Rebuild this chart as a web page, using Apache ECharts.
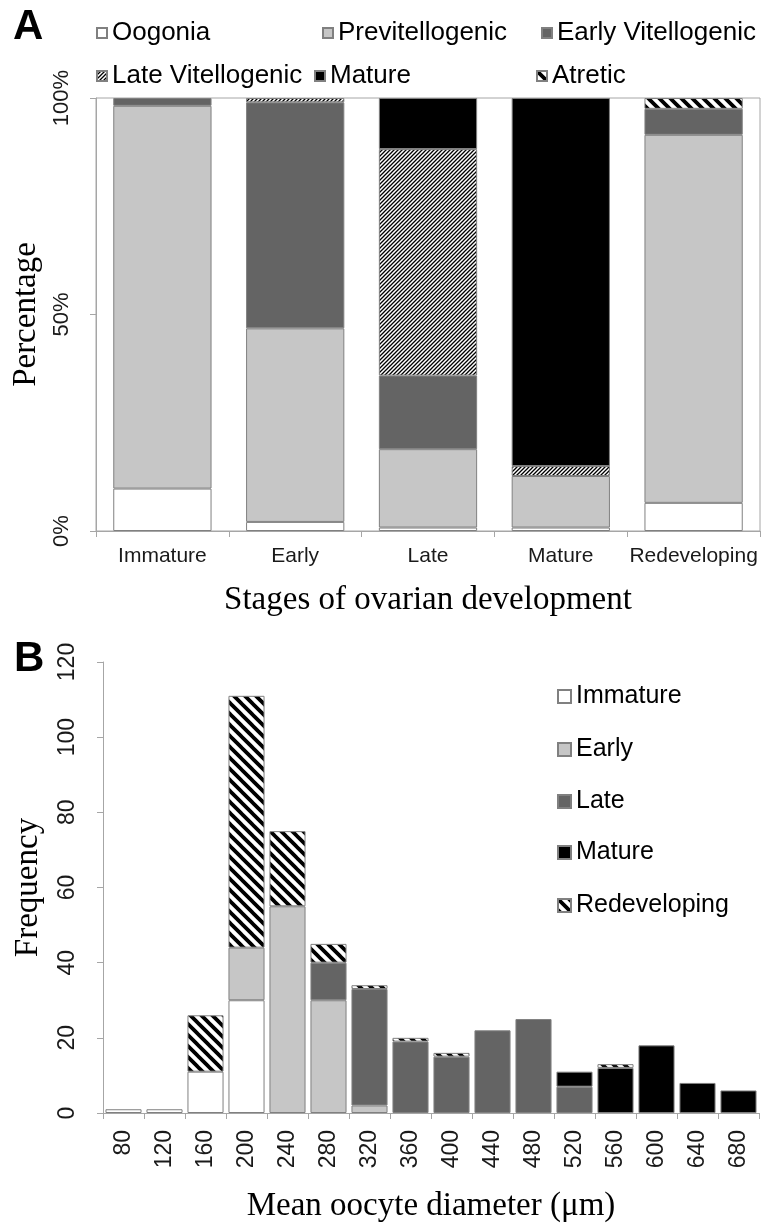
<!DOCTYPE html>
<html>
<head>
<meta charset="utf-8">
<script src="https://cdn.jsdelivr.net/npm/echarts@6/dist/echarts.min.js"></script>
<style>
html,body{margin:0;padding:0;background:#fff;}
#chart{width:764px;height:1224px;}
</style>
</head>
<body>
<div id="chart"></div>
<script>
// ---------- Panel A data (percentage of oocyte types per ovarian stage) ----------
var stagesA = ['Immature', 'Early', 'Late', 'Mature', 'Redeveloping'];
var oogonia = [9.8, 2.1, 0.8, 0.8, 6.5];
var previtellogenic = [88.4, 44.7, 18.1, 11.9, 85.0];
var earlyVitellogenic = [1.8, 52.2, 17.0, 0, 6.0];
var lateVitellogenic = [0, 1.0, 52.3, 2.3, 0];
var matureOocyte = [0, 0, 11.8, 85.0, 0];
var atretic = [0, 0, 0, 0, 2.5];
var percentTicks = [0, 50, 100];

// ---------- Panel B data (frequency by mean oocyte diameter) ----------
var diameters = [80, 120, 160, 200, 240, 280, 320, 360, 400, 440, 480, 520, 560, 600, 640, 680];
var immatureB = [1, 1, 11, 30, 0, 0, 0, 0, 0, 0, 0, 0, 0, 0, 0, 0];
var earlyB = [0, 0, 0, 14, 55, 30, 2, 0, 0, 0, 0, 0, 0, 0, 0, 0];
var lateB = [0, 0, 0, 0, 0, 10, 31, 19, 15, 22, 25, 7, 0, 0, 0, 0];
var matureB = [0, 0, 0, 0, 0, 0, 0, 0, 0, 0, 0, 4, 12, 18, 8, 6];
var redevelopingB = [0, 0, 15, 67, 20, 5, 1, 1, 1, 0, 0, 0, 1, 0, 0, 0];

var SANS = 'Liberation Sans, Arial, sans-serif';
var SERIF = 'Liberation Serif, Times New Roman, serif';
var AXIS_GRAY = '#a6a6a6';
var BORDER = '#808080';

function hatch(p, w, dir) {
  var c = document.createElement('canvas');
  c.width = p; c.height = p;
  var g = c.getContext('2d');
  g.fillStyle = '#fff'; g.fillRect(0, 0, p, p);
  g.strokeStyle = '#000'; g.lineWidth = w; g.lineCap = 'square';
  g.beginPath();
  for (var k = -1; k <= 1; k++) {
    if (dir === '\\') { g.moveTo(k * p, 0); g.lineTo(k * p + p, p); }
    else { g.moveTo(k * p, p); g.lineTo(k * p + p, 0); }
  }
  g.stroke();
  return { image: c, repeat: 'repeat' };
}
var fineHatch = hatch(4, 1.3, '/');
var boldHatch = hatch(11, 3.8, '\\');

function nz(arr) { return arr.map(function (v) { return v === 0 ? '-' : v; }); }

function barSeries(name, data, color, axis, stack, gap) {
  return {
    name: name, type: 'bar', stack: stack,
    xAxisIndex: axis, yAxisIndex: axis,
    data: nz(data),
    barCategoryGap: gap,
    itemStyle: { color: color, borderColor: BORDER, borderWidth: 1 },
    emphasis: { disabled: true }
  };
}

var seriesA = [
  barSeries('Oogonia', oogonia, '#ffffff', 0, 'A', '26%'),
  barSeries('Previtellogenic', previtellogenic, '#c6c6c6', 0, 'A', '26%'),
  barSeries('Early Vitellogenic', earlyVitellogenic, '#646464', 0, 'A', '26%'),
  barSeries('Late Vitellogenic', lateVitellogenic, fineHatch, 0, 'A', '26%'),
  barSeries('Mature', matureOocyte, '#000000', 0, 'A', '26%'),
  barSeries('Atretic', atretic, boldHatch, 0, 'A', '26%')
];
var seriesB = [
  barSeries('Immature', immatureB, '#ffffff', 1, 'B', '12%'),
  barSeries('Early', earlyB, '#c6c6c6', 1, 'B', '12%'),
  barSeries('Late', lateB, '#646464', 1, 'B', '12%'),
  barSeries('Mature ', matureB, '#000000', 1, 'B', '12%'),
  barSeries('Redeveloping', redevelopingB, boldHatch, 1, 'B', '12%')
];

function legendAt(name, left, top, size, box) {
  return {
    data: [name], left: left, top: top, padding: 0,
    itemWidth: box, itemHeight: box, selectedMode: false,
    icon: 'rect',
    textStyle: { fontFamily: SANS, fontSize: size, color: '#000' }
  };
}

var legends = [
  legendAt('Oogonia', 96, 20, 26, 10),
  legendAt('Previtellogenic', 322, 20, 26, 10),
  legendAt('Early Vitellogenic', 541, 20, 26, 10),
  legendAt('Late Vitellogenic', 96, 63, 26, 10),
  legendAt('Mature', 314, 63, 26, 10),
  legendAt('Atretic', 536, 63, 26, 10),
  legendAt('Immature', 557, 684, 25, 13),
  legendAt('Early', 557, 737, 25, 13),
  legendAt('Late', 557, 789, 25, 13),
  legendAt('Mature ', 557, 840, 25, 13),
  legendAt('Redeveloping', 557, 893, 25, 13)
];

var option = {
  animation: false,
  backgroundColor: '#fff',
  legend: legends,
  grid: [
    { left: 96, top: 98, width: 664, height: 433, show: true, borderColor: AXIS_GRAY, borderWidth: 1, backgroundColor: 'transparent' },
    { left: 103, top: 662, width: 656, height: 452 }
  ],
  xAxis: [
    {
      type: 'category', gridIndex: 0, data: stagesA,
      axisLine: { show: true, lineStyle: { color: AXIS_GRAY, width: 1 } },
      axisTick: { show: true, length: 6, lineStyle: { color: AXIS_GRAY } },
      axisLabel: { fontFamily: SANS, fontSize: 21, color: '#1a1a1a', margin: 15, interval: 0 },
      name: 'Stages of ovarian development', nameLocation: 'middle', nameGap: 53,
      nameTextStyle: { fontFamily: SERIF, fontSize: 33, color: '#000' }
    },
    {
      type: 'category', gridIndex: 1, data: diameters.map(String),
      axisLine: { show: true, lineStyle: { color: AXIS_GRAY, width: 1 } },
      axisTick: { show: true, length: 6, lineStyle: { color: AXIS_GRAY } },
      axisLabel: { fontFamily: SANS, fontSize: 23, color: '#1a1a1a', rotate: 90, margin: 17, interval: 0 },
      name: 'Mean oocyte diameter (\u03bcm)', nameLocation: 'middle', nameGap: 77,
      nameTextStyle: { fontFamily: SERIF, fontSize: 33, color: '#000' }
    }
  ],
  yAxis: [
    {
      type: 'value', gridIndex: 0, min: percentTicks[0], max: percentTicks[2], interval: percentTicks[1] - percentTicks[0],
      axisLine: { show: true, lineStyle: { color: AXIS_GRAY, width: 1 } },
      axisTick: { show: true, length: 6, lineStyle: { color: AXIS_GRAY } },
      splitLine: { show: false },
      axisLabel: { fontFamily: SANS, fontSize: 22, color: '#1a1a1a', rotate: 90, margin: 23, formatter: '{value}%' },
      name: 'Percentage', nameLocation: 'middle', nameGap: 52, nameRotate: 90,
      nameTextStyle: { fontFamily: SERIF, fontSize: 33, color: '#000' }
    },
    {
      type: 'value', gridIndex: 1, min: 0, max: 120, interval: 20,
      axisLine: { show: true, lineStyle: { color: AXIS_GRAY, width: 1 } },
      axisTick: { show: true, length: 6, lineStyle: { color: AXIS_GRAY } },
      splitLine: { show: false },
      axisLabel: { fontFamily: SANS, fontSize: 23, color: '#1a1a1a', rotate: 90, margin: 24 },
      name: 'Frequency', nameLocation: 'middle', nameGap: 58, nameRotate: 90,
      nameTextStyle: { fontFamily: SERIF, fontSize: 33, color: '#000' }
    }
  ],
  graphic: [
    { type: 'text', left: 13, top: 6, style: { text: 'A', fontFamily: SANS, fontWeight: 'bold', fontSize: 42, fill: '#000' } },
    { type: 'text', left: 14, top: 638, style: { text: 'B', fontFamily: SANS, fontWeight: 'bold', fontSize: 42, fill: '#000' } }
  ],
  series: seriesA.concat(seriesB)
};

var chart = echarts.init(document.getElementById('chart'), null, { renderer: 'canvas' });
chart.setOption(option);
</script>
</body>
</html>
